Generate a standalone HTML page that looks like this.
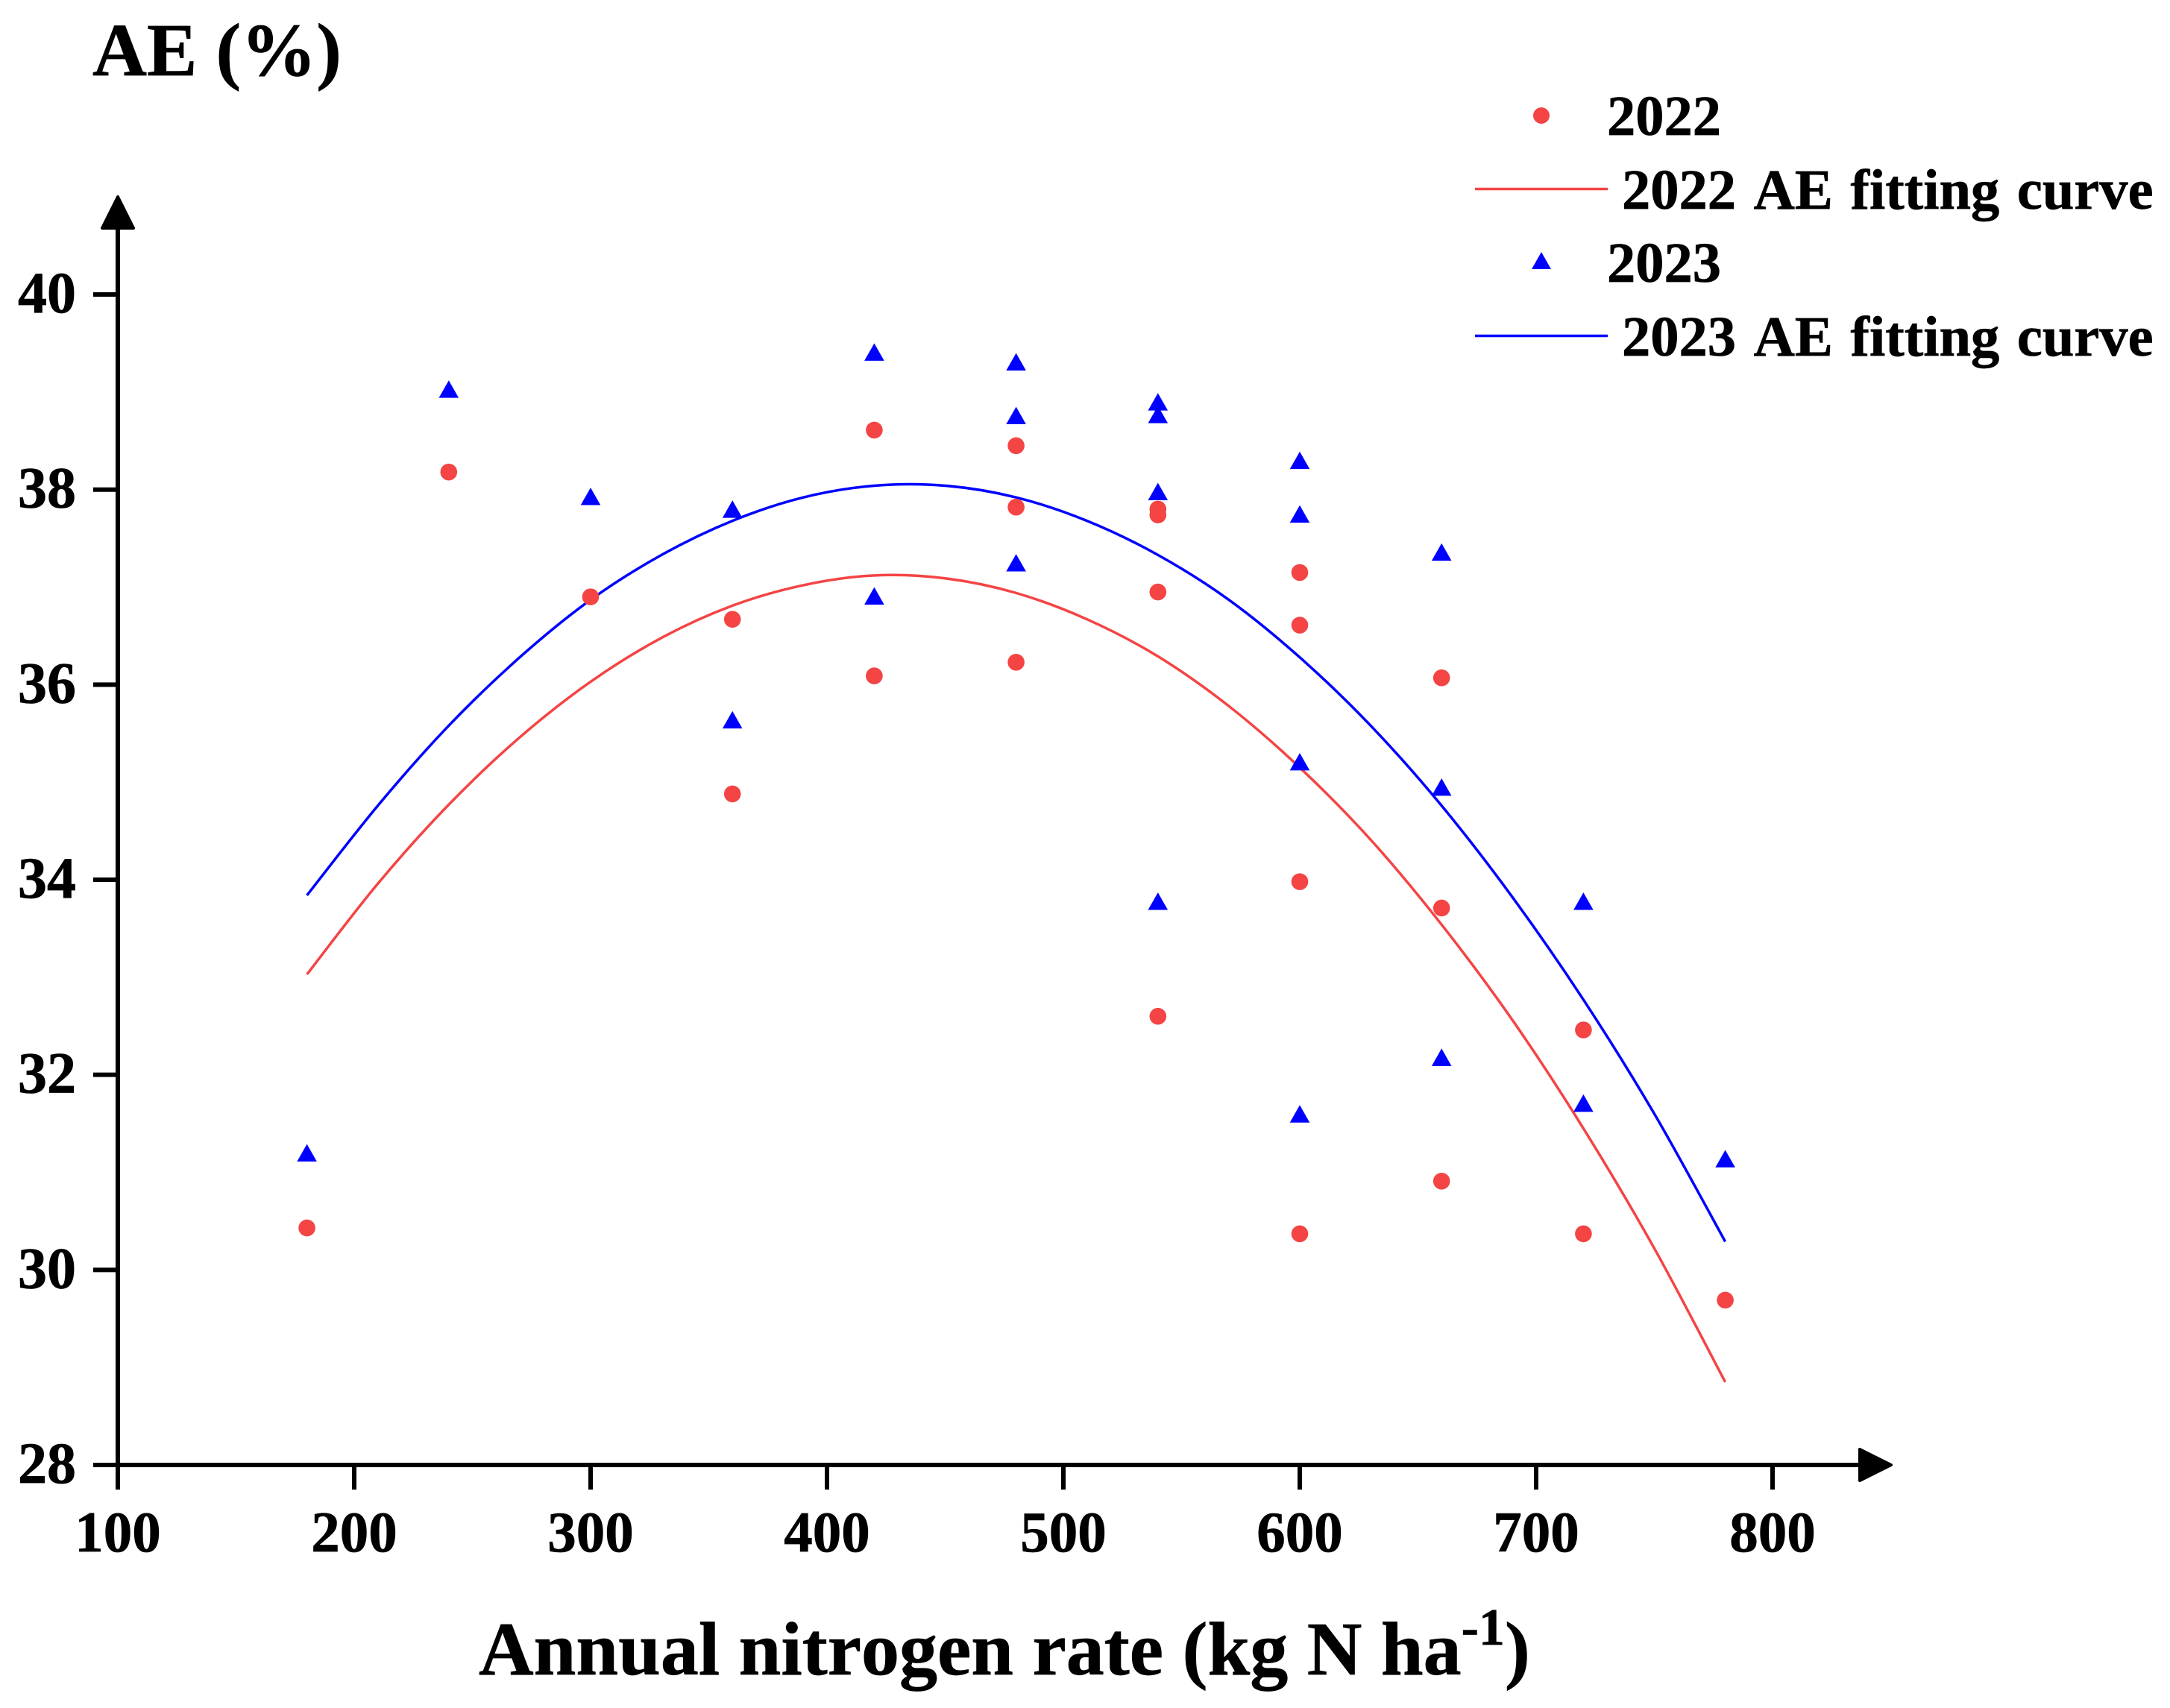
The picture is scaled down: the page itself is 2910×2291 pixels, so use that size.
<!DOCTYPE html>
<html lang="en">
<head>
<meta charset="utf-8">
<title>AE versus annual nitrogen rate</title>
<style>
html,body{margin:0;padding:0;background:#fff;}
svg{display:block;}
text{font-family:"Liberation Serif",serif;font-weight:bold;fill:#000;stroke:#000;stroke-width:0.7px;font-kerning:none;}
</style>
</head>
<body>
<svg id="chart" xmlns="http://www.w3.org/2000/svg" width="2910" height="2291" viewBox="0 0 2910 2291">
<rect x="0" y="0" width="2910" height="2291" fill="#fff"/>
<g id="marks"></g>
<g id="axes">
<line x1="158" y1="300" x2="158" y2="1998" stroke="#000" stroke-width="6"/>
<line x1="125" y1="1965" x2="2500" y2="1965" stroke="#000" stroke-width="6"/>
<polygon points="158,264 137,306 179,306" fill="#000" stroke="#000" stroke-width="4" stroke-linejoin="round"/>
<polygon points="2494,1944 2536,1965 2494,1986" fill="#000" stroke="#000" stroke-width="4" stroke-linejoin="round"/>
</g>
<text x="124" y="101" font-size="101">AE (%)</text>
<text x="642" y="2246" font-size="102">Annual nitrogen rate (kg N ha<tspan font-size="70" dy="-40">-1</tspan><tspan dy="40">)</tspan></text>
<g>
<circle cx="2067" cy="155" r="11" fill="#f44444"/>
<text x="2155" y="181" font-size="76.5">2022</text>
<line x1="1978" y1="253.5" x2="2156" y2="253.5" stroke="#f44444" stroke-width="3.5"/>
<text x="2175" y="280" font-size="76.5" word-spacing="4.5">2022 AE fitting curve</text>
<polygon points="2067,338 2080,361 2054,361" fill="#0000ff"/>
<text x="2155" y="378" font-size="76.5">2023</text>
<line x1="1978" y1="450.5" x2="2156" y2="450.5" stroke="#0000ff" stroke-width="3.5"/>
<text x="2175" y="477" font-size="76.5" word-spacing="4.5">2023 AE fitting curve</text>
</g>
</svg>
<script>
const xTickLabels = [100, 200, 300, 400, 500, 600, 700, 800];
const yTickLabels = [28, 30, 32, 34, 36, 38, 40];
const pointsX2022 = [180, 240, 300, 360, 360, 420, 420, 480, 480, 480, 540, 540, 540, 540, 600, 600, 600, 600, 660, 660, 660, 720, 720, 780];
const pointsY2022 = [30.43, 38.18, 36.90, 36.67, 34.88, 38.61, 36.09, 38.45, 37.82, 36.23, 37.80, 37.74, 36.95, 32.60, 37.15, 36.61, 33.98, 30.37, 36.07, 33.71, 30.91, 32.46, 30.37, 29.69];
const pointsX2023 = [180, 240, 300, 360, 360, 420, 420, 480, 480, 480, 540, 540, 540, 540, 600, 600, 600, 600, 660, 660, 660, 720, 720, 780];
const pointsY2023 = [31.20, 39.03, 37.93, 37.80, 35.64, 39.41, 36.91, 39.31, 38.76, 37.25, 38.90, 38.77, 37.98, 33.78, 38.30, 37.75, 35.21, 31.60, 37.36, 34.95, 32.18, 33.78, 31.71, 31.14];
const curveX = [180, 210, 240, 270, 300, 330, 360, 390, 420, 450, 480, 510, 540, 570, 600, 630, 660, 690, 720, 750, 780];
const curveY2022 = [33.03, 33.96, 34.77, 35.46, 36.03, 36.48, 36.81, 37.02, 37.12, 37.09, 36.94, 36.67, 36.29, 35.78, 35.15, 34.41, 33.54, 32.56, 31.45, 30.22, 28.85];
const curveY2023 = [33.84, 34.76, 35.58, 36.28, 36.87, 37.33, 37.68, 37.92, 38.04, 38.04, 37.92, 37.68, 37.33, 36.87, 36.28, 35.58, 34.76, 33.82, 32.77, 31.60, 30.29];

const NS = 'http://www.w3.org/2000/svg';
const RED = '#f44444';
const BLUE = '#0000ff';
const sx = function (v) { return 158 + (v - 100) * 3.17; };
const sy = function (v) { return 1965 - (v - 28) * 130.83; };
const marks = document.getElementById('marks');
const axes = document.getElementById('axes');
const root = document.getElementById('chart');

function make(tag, attrs, parent) {
  const el = document.createElementNS(NS, tag);
  Object.keys(attrs).forEach(function (k) { el.setAttribute(k, attrs[k]); });
  parent.appendChild(el);
  return el;
}

function smoothPath(xs, ys) {
  const px = xs.map(sx);
  const py = ys.map(sy);
  let d = 'M' + px[0].toFixed(2) + ' ' + py[0].toFixed(2);
  for (let i = 0; i < px.length - 1; i++) {
    const a = Math.max(i - 1, 0);
    const b = Math.min(i + 2, px.length - 1);
    const c1x = px[i] + (px[i + 1] - px[a]) / 6;
    const c1y = py[i] + (py[i + 1] - py[a]) / 6;
    const c2x = px[i + 1] - (px[b] - px[i]) / 6;
    const c2y = py[i + 1] - (py[b] - py[i]) / 6;
    d += 'C' + c1x.toFixed(2) + ' ' + c1y.toFixed(2) + ' ' + c2x.toFixed(2) + ' ' + c2y.toFixed(2) + ' ' + px[i + 1].toFixed(2) + ' ' + py[i + 1].toFixed(2);
  }
  return d;
}

xTickLabels.forEach(function (v) {
  const tick = make('line', { x1: sx(v), x2: sx(v), y1: 1965, y2: 1998, stroke: '#000', 'stroke-width': 6 }, axes);
  
  
  const label = make('text', { x: sx(v), y: 2081, 'font-size': 77, 'text-anchor': 'middle' }, root);
  
  
  label.textContent = v;
});

yTickLabels.forEach(function (v) {
  const tick = make('line', { x1: 125, x2: 158, y1: sy(v), y2: sy(v), stroke: '#000', 'stroke-width': 6 }, axes);
  
  
  const label = make('text', { x: 102, y: sy(v) + 24, 'font-size': 78, 'text-anchor': 'end' }, root);
  
  
  label.textContent = v;
});

const curve2022 = make('path', { d: smoothPath(curveX, curveY2022), fill: 'none', stroke: RED, 'stroke-width': 3.5 }, marks);



const curve2023 = make('path', { d: smoothPath(curveX, curveY2023), fill: 'none', stroke: BLUE, 'stroke-width': 3.5 }, marks);



pointsX2023.forEach(function (xv, i) {
  const x = sx(xv);
  const y = sy(pointsY2023[i]);
  const t = make('polygon', { points: x + ',' + (y - 11.7) + ' ' + (x + 13.3) + ',' + (y + 11.7) + ' ' + (x - 13.3) + ',' + (y + 11.7), fill: BLUE }, marks);
  
  
});

pointsX2022.forEach(function (xv, i) {
  const c = make('circle', { cx: sx(xv), cy: sy(pointsY2022[i]), r: 11.3, fill: RED }, marks);
  
  
});
</script>
</body>
</html>
